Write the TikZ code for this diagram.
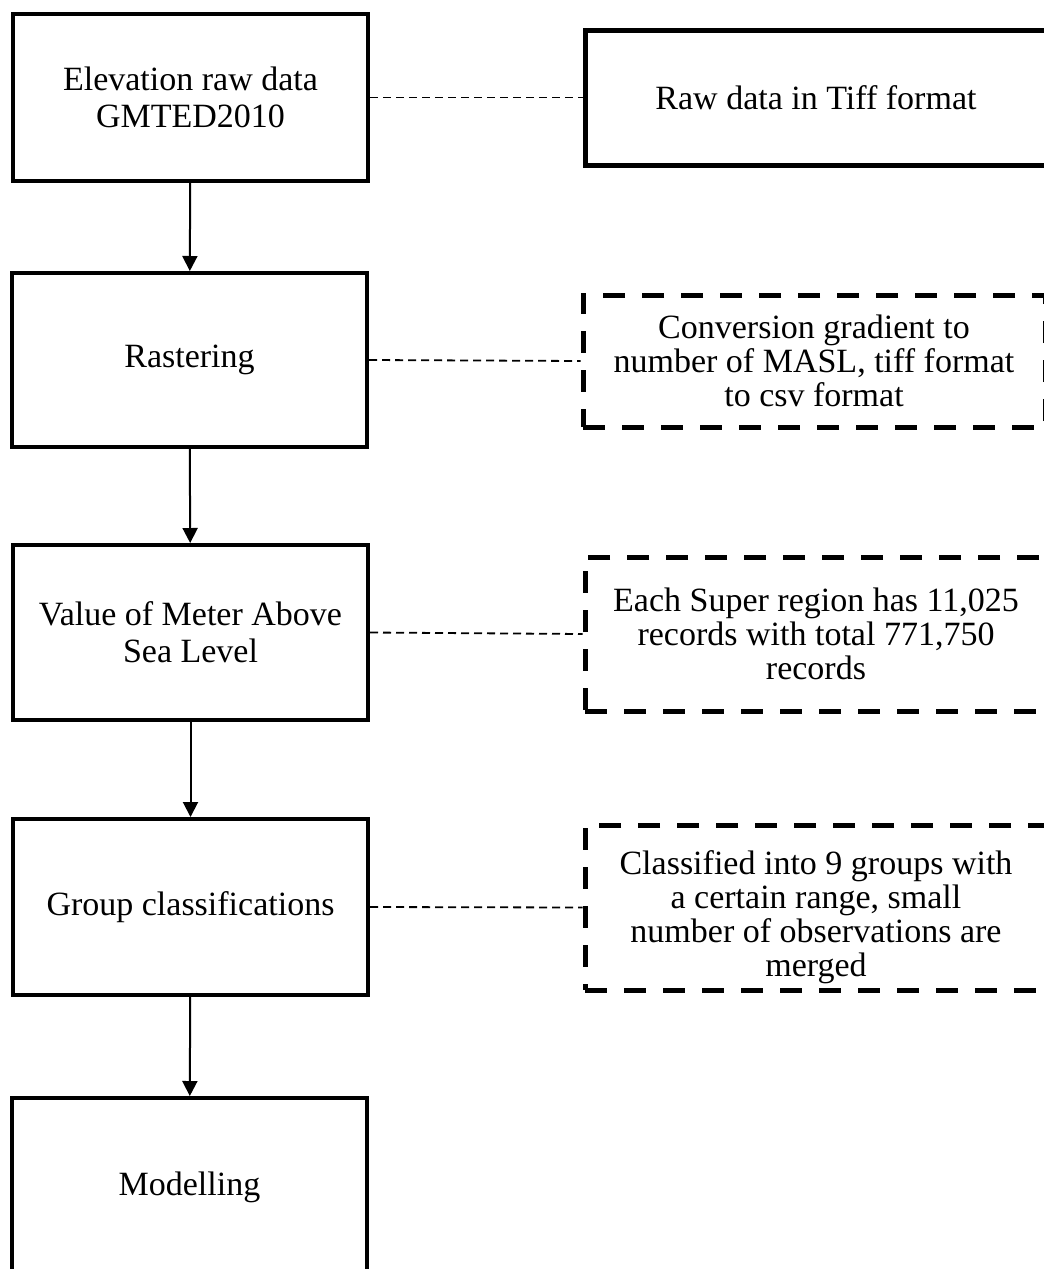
\documentclass[tikz,border=0pt]{standalone}
\usepackage{fontspec}
\setmainfont{Liberation Serif}
\usetikzlibrary{arrows.meta}
\begin{document}
\begin{tikzpicture}[x=1pt,y=-1pt,
  stepbox/.style={draw, line width=4pt, minimum width=355pt, align=center,
    inner sep=0pt, font=\fontsize{34pt}{37pt}\selectfont},
  notebox/.style={draw, line width=5pt, minimum width=462pt, align=center,
    inner sep=0pt, font=\fontsize{34pt}{34pt}\selectfont},
  notetext/.style={align=center, inner sep=0pt, font=\fontsize{34pt}{34pt}\selectfont},
  broken/.style={dash pattern=on 22pt off 17pt},
  flow/.style={line width=2pt, -{Triangle[length=15pt,width=15pt]}},
  link/.style={line width=1.8pt, dash pattern=on 8pt off 5pt},
]
\useasboundingbox (0,0) rectangle (1044,1269);
\clip (0,0) rectangle (1044,1269);

% processing steps
\node[stepbox, minimum height=167pt] (b1) at (190.5,97.5) {Elevation raw data\\GMTED2010};
\node[stepbox, minimum height=174pt] (b2) at (189.5,360) {Rastering};
\node[stepbox, minimum height=175pt] (b3) at (190.5,632.5) {Value of Meter Above\\Sea Level};
\node[stepbox, minimum height=176pt] (b4) at (190.5,907) {Group classifications};
\node[stepbox, minimum height=178pt] (b5) at (189.5,1187) {Modelling};

% notes beside the steps
\node[notebox, minimum height=135pt] (r1) at (816,97.5) {Raw data in Tiff format};
\node[notebox, broken, minimum height=132pt] (r2) at (814,361)
  {Conversion gradient to\\number of MASL, tiff format\\to csv format};
\node[notebox, broken, minimum height=154pt] (r3) at (816,634)
  {Each Super region has 11,025\\records with total 771,750\\records};
\node[notebox, broken, minimum height=165pt] (r4) at (816,907.5) {};
\node[notetext] (t4) at (816,917)
  {Classified into 9 groups with\\a certain range, small\\number of observations are\\merged};

% flow arrows
\draw[flow] (b1) -- (b2);
\draw[flow] (b2) -- (b3);
\draw[flow] (b3) -- (b4);
\draw[flow] (b4) -- (b5);

% dashed links to the notes
\draw[link] (b1.east) -- (r1.west);
\draw[link] (b2.east) -- (r2.west);
\draw[link] (b3.east) -- (r3.west);
\draw[link] (b4.east) -- (r4.west);
\end{tikzpicture}
\end{document}
